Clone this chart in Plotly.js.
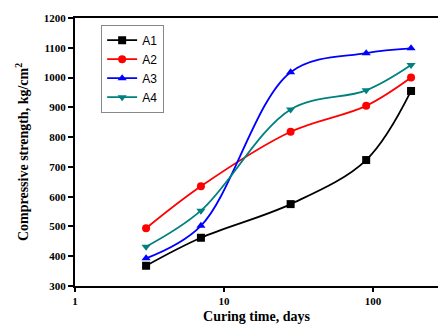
<!DOCTYPE html>
<html>
<head>
<meta charset="utf-8">
<script src="https://cdn.plot.ly/plotly-3.0.1.min.js"></script>
<style>html,body{margin:0;padding:0;background:#fff;}#chart{width:438px;height:324px;}</style>
</head>
<body>
<div id="chart"></div>
<script>
var days = [3, 7, 28, 90, 180];
var seriesNames = ["A1", "A2", "A3", "A4"];
var A1 = [368, 462, 575, 723, 955];
var A2 = [494, 635, 818, 905, 1000];
var A3 = [393, 502, 1018, 1082, 1098];
var A4 = [432, 553, 893, 957, 1042];
var xTickVals = [1, 10, 100];
var xTickText = ["1", "10", "100"];
var yTickVals = [300, 400, 500, 600, 700, 800, 900, 1000, 1100, 1200];

var colors = ["#000000", "#ff0000", "#0000ff", "#008080"];
var symbols = ["square", "circle", "triangle-up", "triangle-down"];
var allY = [A1, A2, A3, A4];

var traces = allY.map(function (ys, i) {
  return {
    x: days, y: ys, name: seriesNames[i], type: "scatter", mode: "lines+markers",
    line: {color: colors[i], width: 1.8, shape: "spline", smoothing: 1},
    marker: {symbol: symbols[i], size: 8, color: colors[i]}
  };
});

var tickFont = {family: "Liberation Serif, Times New Roman, serif", size: 11, color: "#000", weight: "bold"};
var layout = {
  width: 438, height: 324,
  margin: {l: 75, r: 0, t: 18, b: 38},
  paper_bgcolor: "#fff", plot_bgcolor: "#fff",
  showlegend: true,
  legend: {x: 0.072, y: 0.975, xanchor: "left", yanchor: "top",
    bgcolor: "#fff", bordercolor: "#888", borderwidth: 1,
    font: {family: "Liberation Sans, Arial, sans-serif", size: 12, color: "#000"},
    tracegroupgap: 0, itemwidth: 30},
  xaxis: {
    type: "log", range: [0, Math.log10(273)],
    tickvals: xTickVals, ticktext: xTickText,
    ticks: "outside", ticklen: 4, tickwidth: 2, tickcolor: "#000",
    showline: true, linewidth: 2, linecolor: "#000", mirror: true,
    showgrid: false, zeroline: false,
    tickfont: tickFont,
    title: {text: "Curing time, days", standoff: 18,
      font: {family: "Liberation Serif, Times New Roman, serif", size: 14, color: "#000", weight: "bold"}}
  },
  yaxis: {
    range: [300, 1200], tickvals: yTickVals,
    ticks: "outside", ticklen: 5, tickwidth: 2, tickcolor: "#000",
    showline: true, linewidth: 2, linecolor: "#000", mirror: false,
    showgrid: false, zeroline: false,
    tickfont: tickFont,
    title: {text: "Compressive strength, kg/cm<sup>2</sup>", standoff: 12,
      font: {family: "Liberation Serif, Times New Roman, serif", size: 14, color: "#000", weight: "bold"}}
  }
};
Plotly.newPlot("chart", traces, layout, {displayModeBar: false, staticPlot: true});
</script>
</body>
</html>
